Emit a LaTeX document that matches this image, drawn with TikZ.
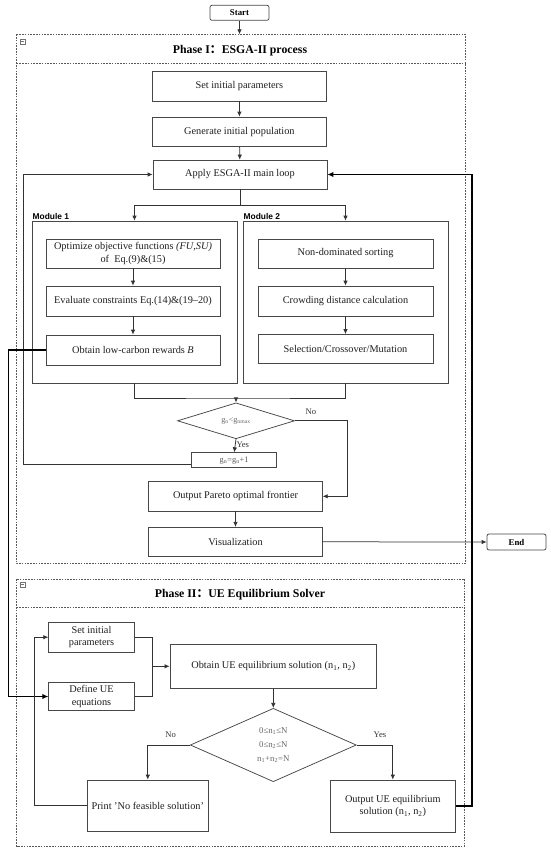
\documentclass[tikz,border=0pt]{standalone}
\usepackage{fontspec}
\setmainfont{Liberation Serif}
\newfontfamily\cjk{Noto Sans CJK SC}
\newfontfamily\arialf{Liberation Sans}
\usetikzlibrary{shapes.geometric,arrows.meta}
\begin{document}
\begin{tikzpicture}[x=1pt,y=-1pt,
  box/.style={draw=black!72,line width=0.75pt,fill=white,align=center,inner sep=1pt,
    font=\fontsize{10.3}{12.6}\selectfont,text=black!88},
  term/.style={draw=black!72,line width=0.75pt,rounded corners=2pt,inner sep=0pt,
    font=\fontsize{8.8}{10}\selectfont\bfseries},
  modbox/.style={draw=black!72,line width=0.75pt,inner sep=0pt},
  dia/.style={diamond,draw=black!72,line width=0.75pt,inner sep=0pt,align=center,text=black!60},
  phase/.style={draw=black!65,line width=0.6pt,dash pattern=on 1.6pt off 1.2pt},
  arr/.style={-{Latex[length=5pt,width=4.5pt]},draw=black!80,line width=0.75pt},
  tarr/.style={-{Latex[length=6pt,width=5.5pt]},draw=black,line width=1.6pt},
  lbl/.style={font=\fontsize{8.6}{10}\selectfont,text=black!80,inner sep=1pt},
  ttl/.style={font=\fontsize{11.8}{13}\selectfont\bfseries,inner sep=0pt},
  modlbl/.style={font=\fontsize{8.4}{10}\selectfont\arialf\bfseries,inner sep=1pt,anchor=south west}]
\useasboundingbox (0,0) rectangle (550,853);

% ---------- Phase I frame ----------
\draw[phase] (16.5,34.3) rectangle (465,563.7);
\draw[phase] (16.5,63.7) -- (465,63.7);
\node[ttl] (t1) at (240,50.7) {Phase I{\cjk ：}ESGA-II process};
\draw[black!55,line width=0.5pt] (19.9,39.2) rectangle (24.9,44.2);
\draw[black!55,line width=0.5pt] (20.9,41.7) -- (23.9,41.7);

% ---------- Phase II frame ----------
\draw[phase] (16.5,579) rectangle (464.5,846);
\draw[phase] (16.5,607.7) -- (464.5,607.7);
\node[ttl] (t2) at (240,595) {Phase II{\cjk ：}UE Equilibrium Solver};
\draw[black!55,line width=0.5pt] (20.2,582.2) rectangle (25.2,587.2);
\draw[black!55,line width=0.5pt] (21.2,584.7) -- (24.2,584.7);

% ---------- Terminals ----------
\node[term,minimum width=59pt,minimum height=15pt] (start) at (239.5,12.8) {Start};
\node[term,minimum width=59pt,minimum height=16pt] (end) at (516.5,542) {End};
\coordinate (p1top) at (239.5,34.3);

% ---------- Phase I boxes ----------
\node[box,minimum width=173.3pt,minimum height=30pt] (set1) at (239.4,86) {Set initial parameters};
\node[box,minimum width=173.3pt,minimum height=29.7pt] (gen) at (239.4,131.9) {Generate initial population};
\node[box,minimum width=174pt,minimum height=29pt] (apply) at (240,174.5) {Apply ESGA-II main loop};

\node[modbox,minimum width=205pt,minimum height=162pt] (mod1) at (134.5,302) {};
\node[modbox,minimum width=205pt,minimum height=162pt] (mod2) at (345.5,302) {};
\node[modlbl] (ml1) at (31.5,221) {Module 1};
\node[modlbl] (ml2) at (242.5,221) {Module 2};

\node[box,minimum width=174pt,minimum height=29pt] (m1a) at (133,253.5) {Optimize objective functions \textit{(FU,SU)}\\of\ \ Eq.(9)\&(15)};
\node[box,minimum width=174pt,minimum height=30pt] (m1b) at (133,301) {Evaluate constraints Eq.(14)\&(19–20)};
\node[box,minimum width=174pt,minimum height=30pt] (m1c) at (133,350) {Obtain low-carbon rewards \textit{B}};

\node[box,minimum width=175pt,minimum height=29pt] (m2a) at (345.5,253.5) {Non-dominated sorting};
\node[box,minimum width=175pt,minimum height=30pt] (m2b) at (345.5,301) {Crowding distance calculation};
\node[box,minimum width=175pt,minimum height=29pt] (m2c) at (345.5,349) {Selection/Crossover/Mutation};

\coordinate (join) at (236,398);
\node[dia,minimum width=117pt,minimum height=21.7pt,font=\fontsize{8.2}{9}\selectfont] (d1) at (236,420.8) {g\textsubscript{n}<g\textsubscript{nmax}};
\node[box,minimum width=85pt,minimum height=15pt,font=\fontsize{8.4}{9}\selectfont,text=black!65] (gn) at (234.2,460.2) {g\textsubscript{n}=g\textsubscript{n}+1};
\node[box,minimum width=173.6pt,minimum height=29.3pt] (pareto) at (235.5,496.3) {Output Pareto optimal frontier};
\node[box,minimum width=173.6pt,minimum height=29pt] (vis) at (235.5,541.8) {Visualization};

% ---------- Phase II boxes ----------
\node[box,minimum width=85.6pt,minimum height=29.7pt] (set2) at (91.5,637.2) {Set initial\\parameters};
\node[box,minimum width=85.6pt,minimum height=28.4pt] (def) at (91.5,696.5) {Define UE\\equations};
\node[box,minimum width=206.7pt,minimum height=44.5pt] (obt) at (273.3,666.3) {Obtain UE equilibrium solution (n\textsubscript{1}, n\textsubscript{2})};
\node[dia,minimum width=166pt,minimum height=73.4pt,font=\fontsize{8.8}{14}\selectfont] (d2) at (273.3,745) {0≤n\textsubscript{1}≤N\\0≤n\textsubscript{2}≤N\\n\textsubscript{1}+n\textsubscript{2}=N};
\node[box,minimum width=121.7pt,minimum height=51pt] (print) at (147.8,805.5) {Print {\char"0027}No feasible solution{\char"0027}};
\node[box,minimum width=125pt,minimum height=52pt] (outue) at (392.8,806) {Output UE equilibrium\\solution (n\textsubscript{1}, n\textsubscript{2})};

% ---------- Connectors Phase I ----------
\draw[arr] (start) -- (p1top);
\draw[arr] (set1) -- (gen);
\draw[arr] (gen) -- (apply);
\draw[arr] (apply.south) -- ++(0,16) -| (mod1.north);
\draw[arr] (apply.south) -- ++(0,16) -| (mod2.north);
\draw[arr] (m1a) -- (m1b);
\draw[arr] (m1b) -- (m1c);
\draw[arr] (m2a) -- (m2b);
\draw[arr] (m2b) -- (m2c);
\draw[draw=black!80,line width=0.75pt] (mod1.south) |- (join) -| (mod2.south);
\draw[arr] (join) -- (d1.north);
\draw[arr] (d1.south) -- node[lbl,right,pos=0.45] (yes1) {Yes} (gn.north);
\draw[arr] (d1.east) -- (347.3,420.8) |- (pareto.east);
\node[lbl] (no1) at (311,412) {No};
\draw[arr] ([yshift=-4pt]gn.west) -- (23.3,464.2) |- (apply.west);
\draw[arr] (pareto) -- (vis);
\draw[arr] (vis.east) -- (end.west);

% ---------- Connectors Phase II ----------
\draw[tarr] (m1c.west) -- (8.3,350) |- (def.west);
\draw[draw=black!80,line width=0.75pt] (set2.east) -- (152.3,637.2) -- (152.3,696.5) -- (def.east);
\coordinate (mrg) at (152.3,666.3);
\draw[arr] (mrg) -- (obt.west);
\draw[arr] (obt.south) -- (d2.north);
\draw[arr] (d2.west) -| (print.north);
\node[lbl] (no2) at (170.7,734.3) {No};
\draw[arr] (d2.east) -| (outue.north);
\node[lbl] (yes2) at (380,735) {Yes};
\draw[arr] (print.west) -- (34.3,805.5) |- (set2.west);
\draw[tarr] (outue.east) -- (471.7,806) |- (apply.east);
\end{tikzpicture}
\end{document}
